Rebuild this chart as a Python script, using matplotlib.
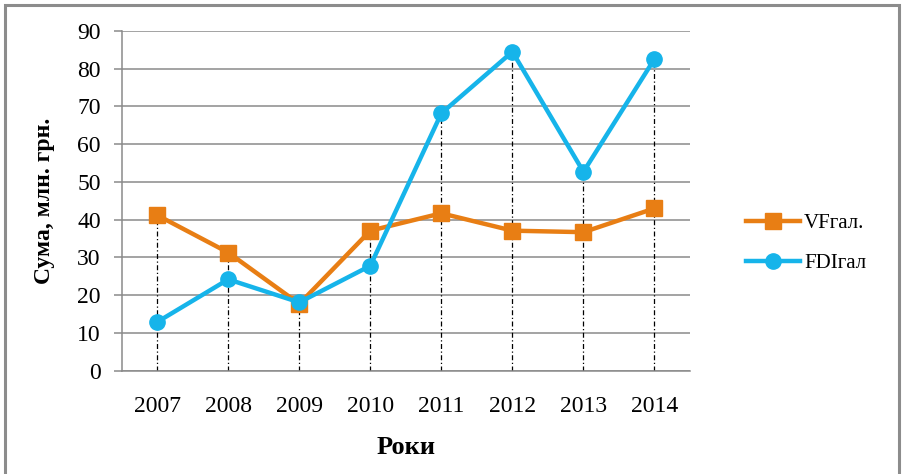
import matplotlib
matplotlib.use("Agg")
import matplotlib.pyplot as plt
from matplotlib.patches import Rectangle

years = ["2007", "2008", "2009", "2010", "2011", "2012", "2013", "2014"]
vf = [41.2, 31.3, 17.7, 37.1, 41.7, 37.1, 36.7, 43.0]
fdi = [12.9, 24.2, 18.1, 27.8, 68.2, 84.5, 52.7, 82.6]
yticks = [0, 10, 20, 30, 40, 50, 60, 70, 80, 90]

plt.rcParams['font.family'] = ['Liberation Serif', 'DejaVu Serif']

W, H = 902, 474
fig = plt.figure(figsize=(W / 100, H / 100), dpi=100)

# frame around the chart (no bottom edge visible)
fig.patches.append(Rectangle((4.5 / W, -0.1), 894 / W, (469 / H) + 0.1, transform=fig.transFigure,
                             fill=False, edgecolor='#8c8c8c', linewidth=2.2, zorder=0))

ax = fig.add_axes([121.7 / W, 1 - 370.7 / H, (690 - 121.7) / W, (370.7 - 31) / H])
x = list(range(len(years)))

orange = '#E87E14'
blue = '#16B4EA'

# drop lines
for i in x:
    top = max(vf[i], fdi[i])
    ax.plot([i, i], [0, top], color='black', linestyle=(0, (4, 2, 1, 2)), linewidth=0.9, zorder=2)

ax.plot(x, vf, color=orange, linewidth=3.2, marker='s', markersize=11, label='VFгал.', zorder=3)
ax.plot(x, fdi, color=blue, linewidth=3.2, marker='o', markersize=11, label='FDIгал', zorder=4)

ax.set_xlim(-0.5, len(years) - 0.5)
ax.set_ylim(0, 90)
ax.set_yticks(yticks)
ax.set_xticks(x)
ax.set_xticklabels(years)
ax.yaxis.grid(True, color='#8a8a8a', linewidth=1.1)
ax.set_axisbelow(True)
for s in ['top', 'right']:
    ax.spines[s].set_visible(False)
ax.spines['left'].set_color('#8a8a8a')
ax.spines['bottom'].set_color('#8a8a8a')
ax.spines['left'].set_linewidth(1.1)
ax.spines['bottom'].set_linewidth(1.1)
ax.tick_params(axis='y', length=6, width=1.1, color='#8a8a8a', pad=9, labelsize=17)
ax.tick_params(axis='x', length=0, pad=18, labelsize=17)

ax.set_ylabel('Сума, млн. грн.', fontsize=17, fontweight='bold', labelpad=16)
ax.set_xlabel('Роки', fontsize=19, fontweight='bold', labelpad=14)

leg = ax.legend(loc='center left', bbox_to_anchor=(1.065, 0.375), frameon=False,
                fontsize=15, handlelength=2.6, labelspacing=1.0, handletextpad=0.2)

fig.savefig('out.png', dpi=100)
